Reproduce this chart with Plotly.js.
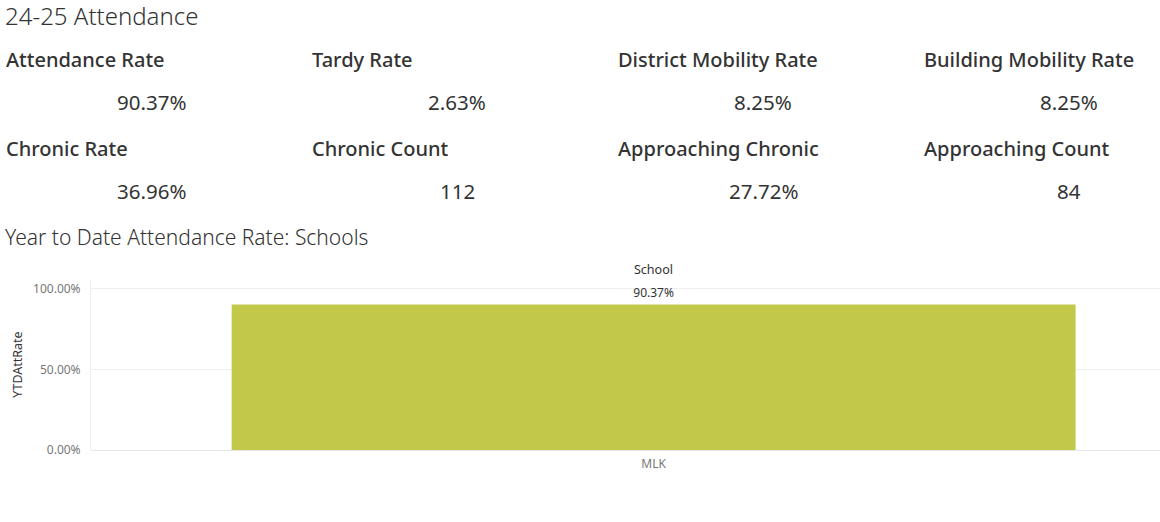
<!DOCTYPE html>
<html>
<head>
<meta charset="utf-8">
<script src="https://cdn.plot.ly/plotly-3.0.1.min.js"></script>
<style>
html,body{margin:0;padding:0;background:#fff;}
#chart{width:1160px;height:522px;}
</style>
</head>
<body>
<div id="chart"></div>
<script>
// ---- data ----
const pageTitle = "24-25 Attendance";
const chartTitle = "Year to Date Attendance Rate: Schools";
const kpiLabels = ["Attendance Rate", "Tardy Rate", "District Mobility Rate", "Building Mobility Rate",
                   "Chronic Rate", "Chronic Count", "Approaching Chronic", "Approaching Count"];
const kpiValues = ["90.37%", "2.63%", "8.25%", "8.25%", "36.96%", "112", "27.72%", "84"];
const schools = ["MLK"];
const attRates = [0.9037];
const yTickVals = [0, 0.5, 1];
const yTickText = ["0.00%", "50.00%", "100.00%"];

// ---- layout helpers (pixel -> paper) ----
const W = 1160, H = 522;
const L = 91, R = 0, T = 279, B = 72;
const pw = W - L - R, ph = H - T - B;
const px = v => (v - L) / pw;
const py = v => (H - B - v) / ph;

const FONT = "Noto Sans, Open Sans, sans-serif";
const dark = "#333333";
const annotations = [];

annotations.push({text: pageTitle, xref: "paper", yref: "paper", x: px(3), y: py(15),
  xanchor: "left", yanchor: "middle", showarrow: false,
  font: {family: FONT, size: 24, color: dark, weight: 300}});

const colX = [4, 310, 616, 922];
const rowLabelY = [59.5, 148.5];
const rowValueY = [102, 191];
kpiLabels.forEach((lab, i) => {
  const c = i % 4, r = Math.floor(i / 4);
  annotations.push({text: lab, xref: "paper", yref: "paper", x: px(colX[c]), y: py(rowLabelY[r]),
    xanchor: "left", yanchor: "middle", showarrow: false,
    font: {family: FONT, size: 20, color: dark, weight: 500}});
  annotations.push({text: kpiValues[i], xref: "paper", yref: "paper", x: px(colX[c] + 147), y: py(rowValueY[r]),
    xanchor: "center", yanchor: "middle", showarrow: false,
    font: {family: FONT, size: 20.5, color: dark, weight: 400}});
});

annotations.push({text: chartTitle, xref: "paper", yref: "paper", x: px(3), y: py(237),
  xanchor: "left", yanchor: "middle", showarrow: false,
  font: {family: FONT, size: 21, color: dark, weight: 300}});

annotations.push({text: "School", xref: "x", yref: "paper", x: 0, y: py(269),
  xanchor: "center", yanchor: "middle", showarrow: false,
  font: {family: FONT, size: 12.5, color: dark}});

const trace = {
  type: "bar",
  x: schools,
  y: attRates,
  width: 0.75,
  marker: {color: "#C2C94A"},
  text: attRates.map(v => (v * 100).toFixed(2) + "%"),
  textposition: "outside",
  cliponaxis: false,
  textfont: {family: FONT, size: 12, color: dark},
  hoverinfo: "skip"
};

const layout = {
  width: W, height: H,
  margin: {l: L, r: R, t: T, b: B, pad: 0},
  paper_bgcolor: "#fff", plot_bgcolor: "#fff",
  showlegend: false,
  bargap: 0.25,
  annotations: annotations,
  xaxis: {
    type: "category",
    range: [-0.5, 0.45],
    showgrid: false,
    showline: false,
    zeroline: false,
    ticks: "",
    ticklabelstandoff: 5,
    tickfont: {family: FONT, size: 12, color: "#777"},
    fixedrange: true
  },
  yaxis: {
    range: [0, 1.062],
    tickvals: yTickVals,
    ticktext: yTickText,
    showgrid: true,
    gridcolor: "#efefef",
    gridwidth: 1,
    zeroline: true,
    zerolinecolor: "#e6e6e6",
    zerolinewidth: 1,
    showline: true,
    linecolor: "#efefef",
    linewidth: 1,
    ticks: "",
    ticklabelstandoff: 7,
    tickfont: {family: FONT, size: 12, color: "#777"},
    title: {text: "YTDAttRate", font: {family: FONT, size: 12.5, color: dark}, standoff: 7},
    fixedrange: true
  }
};

Plotly.newPlot("chart", [trace], layout, {displayModeBar: false, staticPlot: true});
</script>
</body>
</html>
